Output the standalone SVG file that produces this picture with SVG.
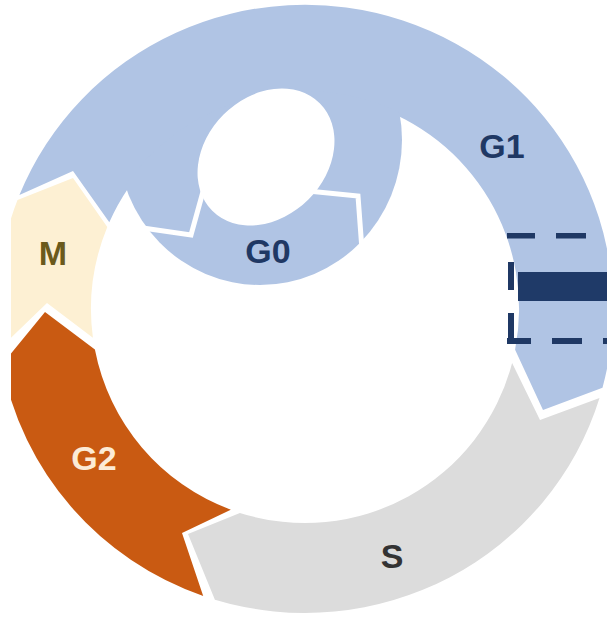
<svg xmlns="http://www.w3.org/2000/svg" width="607" height="618" viewBox="0 0 607 618">
  <style>
    .g1 { fill: #B0C4E4; }
    .s { fill: #DCDCDC; }
    .g2 { fill: #C95A12; }
    .m { fill: #FDF0D3; }
    .gap { fill: none; stroke: #FFFFFF; stroke-width: 5; stroke-linejoin: miter; stroke-linecap: butt; }
    .lbl { font-family: "Liberation Sans", Arial, Helvetica, sans-serif; font-weight: bold; font-size: 34px; text-anchor: middle; }
    .dash { fill: #1F3864; }
  </style>
  <defs>
    <clipPath id="crop">
      <rect x="11" y="0" width="596" height="618"/>
    </clipPath>
    <clipPath id="innerDisk">
      <circle cx="305" cy="309" r="218"/>
    </clipPath>
  </defs>
  <rect x="0" y="0" width="607" height="618" fill="#FFFFFF"/>
  <g clip-path="url(#crop)">
    <g id="G1">
      <path class="g1" d="M 109.3 222.3 L 73 171 L 19.4 195.1 A 308 304 0 0 1 602.5 387.7 L 543 410 L 515.1 349.8 A 214 214 0 0 0 109.3 222.3 Z"/>
      <text class="lbl" x="502" y="158" fill="#1F3864">G1</text>
    </g>
    <g id="G0">
      <ellipse class="g1" cx="260" cy="140" rx="142" ry="145" clip-path="url(#innerDisk)"/>
      <ellipse cx="266" cy="157" rx="76" ry="60" fill="#FFFFFF" transform="rotate(-45 266 157)"/>
      <polyline class="gap" points="136,227 191,235 204,188"/>
      <polyline class="gap" points="308,191 358,196 362,250"/>
      <text class="lbl" x="268" y="263" fill="#1F3864">G0</text>
    </g>
    <g id="S">
      <path class="s" d="M 512.1 362.9 L 540 420 L 599.5 397.9 A 308 304 0 0 1 214.9 599.7 L 188 534 L 239.9 512.9 A 214 214 0 0 0 512.1 362.9 Z"/>
      <text class="lbl" x="392" y="568" fill="#333333">S</text>
    </g>
    <g id="G2">
      <path class="g2" d="M 230.8 509.7 L 182 533 L 203.2 595.9 A 308 304 0 0 1 2.1 364.4 L 45 312 L 94.9 349.5 A 214 214 0 0 0 230.8 509.7 Z"/>
      <text class="lbl" x="94" y="470" fill="#FCEBD6">G2</text>
    </g>
    <g id="M">
      <path class="m" d="M 92.9 337.7 L 47 303 L -0.4 348.7 A 308 304 0 0 1 17.5 200.1 L 73 178 L 107.3 227.1 A 214 214 0 0 0 92.9 337.7 Z"/>
      <text class="lbl" x="53" y="265" fill="#6B5A1C">M</text>
    </g>
  </g>
  <g id="restriction-point">
    <rect class="dash" x="507" y="233" width="28" height="5.5"/>
    <rect class="dash" x="556" y="233" width="30" height="5.5"/>
    <rect class="dash" x="508" y="262" width="6" height="28"/>
    <rect class="dash" x="508" y="313" width="6" height="31"/>
    <rect class="dash" x="507" y="338" width="24" height="6"/>
    <rect class="dash" x="552" y="338" width="30" height="6"/>
    <rect class="dash" x="603" y="338" width="5" height="6"/>
    <rect x="518" y="272" width="90" height="29" fill="#1F3A68"/>
  </g>
  <g id="connectors"/>
</svg>
